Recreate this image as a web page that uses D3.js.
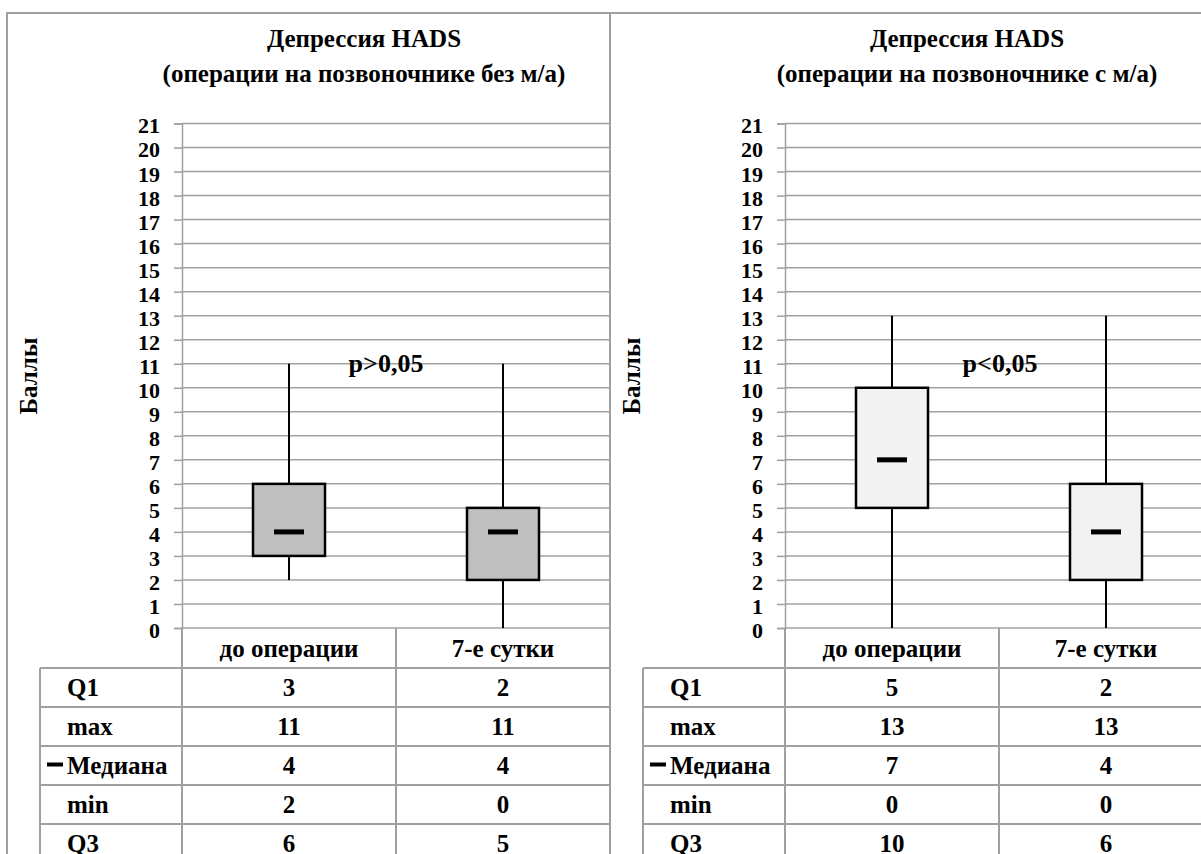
<!DOCTYPE html>
<html>
<head>
<meta charset="utf-8">
<script src="https://cdn.jsdelivr.net/npm/d3@7"></script>
<style>
  body { margin: 0; background: #fff; }
</style>
</head>
<body>
<script>
// kategorier, rækker og tick-værdier
const categories = ["до операции", "7-е сутки"];
const rowLabels = ["Q1", "max", "Медиана", "min", "Q3"];
const yTicks = [0, 1, 2, 3, 4, 5, 6, 7, 8, 9, 10, 11, 12, 13, 14, 15, 16, 17, 18, 19, 20, 21];

const titleLine1 = "Депрессия HADS";
const subtitles = ["(операции на позвоночнике без м/а)", "(операции на позвоночнике с м/а)"];
const pLabels = ["p>0,05", "p<0,05"];
const yLabel = "Баллы";

// operationer uden m/a
const q1BezMa = [3, 2];
const maxBezMa = [11, 11];
const medBezMa = [4, 4];
const minBezMa = [2, 0];
const q3BezMa = [6, 5];

// operationer med m/a
const q1SMa = [5, 2];
const maxSMa = [13, 13];
const medSMa = [7, 4];
const minSMa = [0, 0];
const q3SMa = [10, 6];

const gridColor = "#a0a0a0";
const serif = "'Liberation Serif', 'Times New Roman', Tinos, 'DejaVu Serif', serif";

const panels = [
  { sub: subtitles[0], p: pLabels[0], q1: q1BezMa, max: maxBezMa, med: medBezMa, min: minBezMa, q3: q3BezMa, fill: "#bfbfbf", ox: 7, pDx: 379 },
  { sub: subtitles[1], p: pLabels[1], q1: q1SMa, max: maxSMa, med: medSMa, min: minSMa, q3: q3SMa, fill: "#f2f2f2", ox: 610, pDx: 390 }
];

const svg = d3
  .select("body")
  .append("svg")
  .attr("width", 1201)
  .attr("height", 854)
  .attr("font-family", serif)
  .attr("font-weight", "bold");

const y = d3.scaleLinear().domain([0, 21]).range([628, 123.5]);

// lille hjælper til al tekst
function txt(g, x, yy, s, size, anchor) {
  return g.append("text")
    .attr("x", x)
    .attr("y", yy)
    .attr("text-anchor", anchor || "start")
    .attr("font-family", serif)
    .attr("font-weight", "bold")
    .attr("font-size", size)
    .attr("fill", "#000")
    .text(s);
}

panels.forEach(function (pn) {
  const ox = pn.ox;
  const plotLeft = ox + 175;
  const plotRight = ox + 603;
  const x = d3.scaleBand().domain(categories).range([plotLeft, plotRight]);
  const boxW = 72;
  const g = svg.append("g");

  // ramme om diagrammet
  g.append("rect")
    .attr("x", ox)
    .attr("y", 13)
    .attr("width", 603)
    .attr("height", 900)
    .attr("fill", "none")
    .attr("stroke", gridColor)
    .attr("stroke-width", 2);

  // titel
  txt(g, ox + 357, 47, titleLine1, 25, "middle");
  txt(g, ox + 357, 82, pn.sub, 25, "middle");

  // gitterlinjer
  g.selectAll(".grid")
    .data(yTicks)
    .join("line")
    .attr("x1", plotLeft)
    .attr("x2", plotRight)
    .attr("y1", d => y(d))
    .attr("y2", d => y(d))
    .attr("stroke", gridColor)
    .attr("stroke-width", 1.5);

  // y-akse
  const ax = g.append("g")
    .attr("transform", "translate(" + plotLeft + ",0)")
    .call(d3.axisLeft(y).tickValues(yTicks).tickSize(8).tickPadding(14));
  ax.attr("font-family", serif).attr("font-size", 22).attr("font-weight", "bold");
  ax.select(".domain").attr("stroke", gridColor).attr("stroke-width", 1.5);
  ax.selectAll(".tick line").attr("stroke", gridColor).attr("stroke-width", 1.5);
  ax.selectAll(".tick text")
    .attr("font-family", serif)
    .attr("font-size", 22)
    .attr("dy", "0.43em");

  txt(g, 0, 0, yLabel, 25, "middle")
    .attr("transform", "translate(" + (ox + 30) + ",376) rotate(-90)");

  // whiskers, kasser og medianer
  categories.forEach(function (c, i) {
    const cx = x(c) + x.bandwidth() / 2;
    g.append("line")
      .attr("x1", cx)
      .attr("x2", cx)
      .attr("y1", y(pn.min[i]))
      .attr("y2", y(pn.max[i]))
      .attr("stroke", "#000")
      .attr("stroke-width", 2);
    g.append("rect")
      .attr("x", cx - boxW / 2)
      .attr("y", y(pn.q3[i]))
      .attr("width", boxW)
      .attr("height", y(pn.q1[i]) - y(pn.q3[i]))
      .attr("fill", pn.fill)
      .attr("stroke", "#000")
      .attr("stroke-width", 2.5);
    g.append("rect")
      .attr("x", cx - 15)
      .attr("y", y(pn.med[i]) - 2.5)
      .attr("width", 30)
      .attr("height", 5)
      .attr("fill", "#000");
  });

  txt(g, ox + pn.pDx, 372, pn.p, 26, "middle");

  // datatabel
  const rowTop = 668;
  const rowH = 39;
  const tableLeft = ox + 33;
  const tableBottom = rowTop + rowH * (rowLabels.length + 1);

  x.domain().forEach(function (c) {
    g.append("line")
      .attr("x1", x(c))
      .attr("x2", x(c))
      .attr("y1", 628)
      .attr("y2", tableBottom)
      .attr("stroke", gridColor)
      .attr("stroke-width", 2);
  });
  g.append("line")
    .attr("x1", tableLeft)
    .attr("x2", tableLeft)
    .attr("y1", rowTop)
    .attr("y2", tableBottom)
    .attr("stroke", gridColor)
    .attr("stroke-width", 2);
  g.selectAll(".hline")
    .data(d3.range(rowLabels.length + 1))
    .join("line")
    .attr("x1", tableLeft)
    .attr("x2", plotRight)
    .attr("y1", d => rowTop + d * rowH)
    .attr("y2", d => rowTop + d * rowH)
    .attr("stroke", gridColor)
    .attr("stroke-width", 2);

  categories.forEach(function (c) {
    txt(g, x(c) + x.bandwidth() / 2, 657, c, 25, "middle");
  });

  const rowValues = [pn.q1, pn.max, pn.med, pn.min, pn.q3];
  rowLabels.forEach(function (lab, r) {
    const cy = rowTop + r * rowH + rowH / 2;
    txt(g, ox + 60, cy + 8.5, lab, 25);
    if (lab === "Медиана") {
      g.append("rect")
        .attr("x", ox + 40)
        .attr("y", cy - 3)
        .attr("width", 16)
        .attr("height", 4)
        .attr("fill", "#000");
    }
    categories.forEach(function (c, i) {
      txt(g, x(c) + x.bandwidth() / 2, cy + 8.5, rowValues[r][i], 25, "middle");
    });
  });
});
</script>
</body>
</html>
